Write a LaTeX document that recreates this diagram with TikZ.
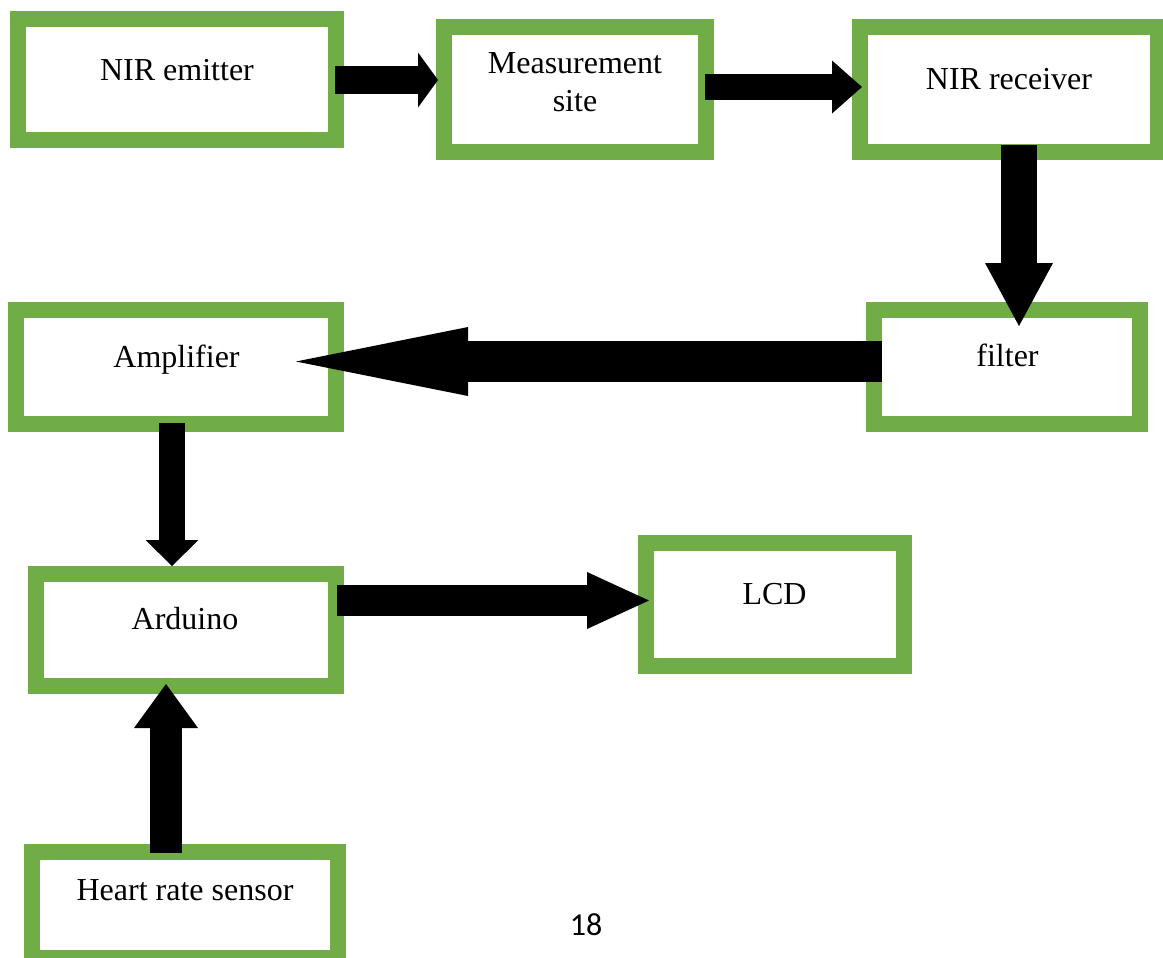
\documentclass[tikz,border=0pt]{standalone}
\usepackage{fontspec}
\setmainfont{Liberation Serif}
\newfontfamily\pagenumfont{Carlito}
\usetikzlibrary{arrows.meta,calc}
\definecolor{boxgreen}{RGB}{112,173,71}
\begin{document}
\begin{tikzpicture}[x=0.5pt,y=-0.5pt,
  box/.style={draw=boxgreen, line width=8pt, fill=white, rectangle, inner sep=0pt, outer sep=0pt},
  txt/.style={font=\fontsize{16}{19.5}\selectfont, inner sep=0pt, anchor=base},
  flow/.style={draw=black, line cap=butt}
]
\useasboundingbox (0,0) rectangle (1163,958);
\clip (0,0) rectangle (1163,958);
\fill[white] (0,0) rectangle (1163,958);

% boxes
\node[box, minimum width=159pt, minimum height=60.5pt] (emit)  at (177,79.5) {};
\node[box, minimum width=131pt, minimum height=62.5pt] (meas)  at (575,89.5) {};
\node[box, minimum width=149pt, minimum height=62.5pt] (recv)  at (1009,89.5) {};
\node[box, minimum width=133pt, minimum height=57pt]   (filt)  at (1007,367) {};
\node[box, minimum width=160pt, minimum height=57pt]   (amp)   at (176,367) {};
\node[box, minimum width=150pt, minimum height=56pt]   (ard)   at (186,630) {};
\node[box, minimum width=129pt, minimum height=61.5pt] (lcd)   at (775,604.5) {};
\node[box, minimum width=153pt, minimum height=53pt]   (heart) at (185,905) {};

% labels
\node[txt] (emit-t)  at (177,80)  {NIR emitter};
\node[txt] (meas-t1) at (575,73)  {Measurement};
\node[txt] (meas-t2) at (575,112) {site};
\node[txt] (recv-t)  at (1009,89) {NIR receiver};
\node[txt] (filt-t)  at (1007.5,366) {filter};
\node[txt] (amp-t)   at (176.5,367) {Amplifier};
\node[txt] (ard-t)   at (185,629) {Arduino};
\node[txt] (lcd-t)   at (774.5,604) {LCD};
\node[txt] (heart-t) at (185,900) {Heart rate sensor};
\node[inner sep=0pt, anchor=base, font=\pagenumfont\fontsize{16}{19}\selectfont] (pagenum) at (586,935) {18};

% connectors
\draw[flow, line width=14pt, -{Triangle[length=10pt, width=27.5pt, line width=0pt]}]
  ($(emit.east)+(-1,0.5)$) -- ($(emit.east -| meas.west)+(-6,0.5)$);
\draw[flow, line width=13pt, -{Triangle[length=15pt, width=26.5pt, line width=0pt]}]
  ($(meas.east)+(-1.5,-2.5)$) -- ($(meas.east -| recv.west)+(2,-2.5)$);
\draw[flow, line width=18pt, -{Triangle[length=31.5pt, width=34pt, line width=0pt]}]
  ($(recv.south)+(10,-7)$) -- ($(recv.south |- filt.north)+(10,16)$);
\draw[flow, line width=20.5pt, -{Triangle[length=86pt, width=34.5pt, line width=0pt]}]
  ($(filt.west)+(8,-5.5)$) -- ($(filt.west -| amp.east)+(-40,-5.5)$);
\draw[flow, line width=13pt, -{Triangle[length=13pt, width=26.5pt, line width=0pt]}]
  ($(amp.south)+(-4,-1)$) -- ($(amp.south |- ard.north)+(-4,-8)$);
\draw[flow, line width=15.5pt, -{Triangle[length=31pt, width=28.5pt, line width=0pt]}]
  ($(ard.east)+(1,-29.5)$) -- ($(ard.east -| lcd.west)+(3,-29.5)$);
\draw[flow, line width=16pt, -{Triangle[length=22pt, width=32pt, line width=0pt]}]
  ($(heart.north)+(-19,1)$) -- ($(heart.north |- ard.south)+(-19,-2)$);
\end{tikzpicture}
\end{document}
